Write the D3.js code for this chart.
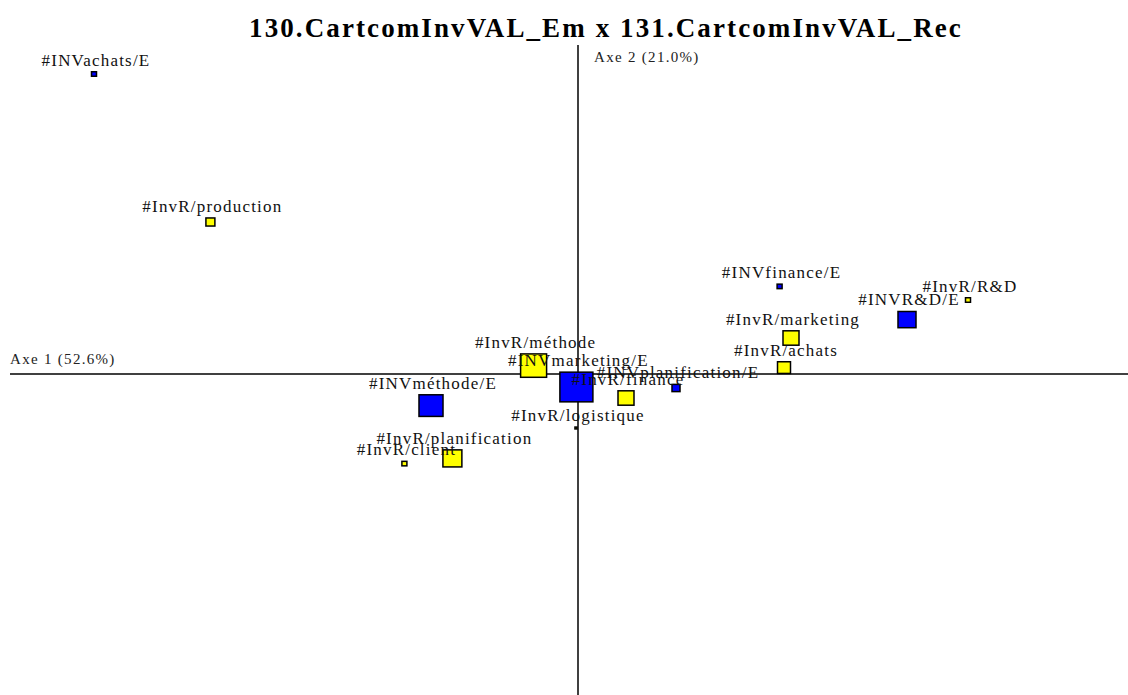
<!DOCTYPE html>
<html>
<head>
<meta charset="utf-8">
<script src="https://cdn.jsdelivr.net/npm/d3@7"></script>
<style>
  html, body { margin: 0; padding: 0; background: #fff; }
  svg { display: block; }
</style>
</head>
<body>
<svg id="chart" width="1128" height="695"></svg>
<script>
// Correspondence analysis map: modalities of the two variables on axes 1 and 2
const labels = [
  "#INVachats/E", "#InvR/production", "#INVfinance/E", "#InvR/R&D", "#INVR&D/E",
  "#InvR/marketing", "#InvR/achats", "#INVplanification/E", "#InvR/finance",
  "#INVmarketing/E", "#InvR/méthode", "#INVméthode/E", "#InvR/logistique",
  "#InvR/planification", "#InvR/client"
];
// "E" = emitter variable (blue), "R" = receiver variable (yellow)
const groups = ["E", "R", "E", "R", "E", "R", "R", "E", "R", "E", "R", "E", "R", "R", "R"];
const axis1 = [-1.21, -0.919, 0.504, 0.975, 0.8225, 0.5325, 0.515, 0.245, 0.12, -0.004, -0.111, -0.3675, -0.005, -0.314, -0.434];
const axis2 = [0.75, 0.38, 0.219, 0.185, 0.136, 0.09, 0.016, -0.035, -0.06, -0.0325, 0.021, -0.079, -0.135, -0.211, -0.224];
const masses = [2.3, 7.4, 2.3, 2.3, 29.8, 23.5, 15.5, 5.9, 23.5, 100, 62, 53, 0.4, 33, 2.3];

const titleText = "130.CartcomInvVAL_Em x 131.CartcomInvVAL_Rec";
const axis1Label = "Axe 1 (52.6%)";
const axis2Label = "Axe 2 (21.0%)";

const W = 1128, H = 695;
const svg = d3.select("#chart");
const serif = "'Liberation Serif', 'DejaVu Serif', serif";

const x = d3.scaleLinear().domain([-1.42, 1.375]).range([10, 1128]);
const y = d3.scaleLinear().domain([0.7725, -0.8025]).range([65, 695]);
const side = d3.scaleSqrt().domain([0, 100]).range([0, 33]);
const fill = d3.scaleOrdinal().domain(["E", "R"]).range(["#0000ff", "#ffff00"]);

const points = labels.map((label, i) => ({
  label, group: groups[i], a1: axis1[i], a2: axis2[i], mass: masses[i]
}));

// Title
svg.append("text")
  .attr("x", 606).attr("y", 37)
  .attr("text-anchor", "middle")
  .attr("font-family", serif)
  .attr("font-weight", "bold")
  .attr("font-size", 27)
  .attr("letter-spacing", 2.1)
  .attr("fill", "#000")
  .text(titleText);

// Axes through the origin
svg.append("line")
  .attr("x1", x(-1.42)).attr("x2", x(1.375))
  .attr("y1", y(0)).attr("y2", y(0))
  .attr("stroke", "#000").attr("stroke-width", 1.5);
svg.append("line")
  .attr("x1", x(0)).attr("x2", x(0))
  .attr("y1", 45).attr("y2", H)
  .attr("stroke", "#000").attr("stroke-width", 1.5);

svg.append("text")
  .attr("x", 10).attr("y", y(0) - 10)
  .attr("font-family", serif).attr("font-size", 15).attr("letter-spacing", 1.3).attr("fill", "#222")
  .text(axis1Label);
svg.append("text")
  .attr("x", x(0) + 16).attr("y", 62)
  .attr("font-family", serif).attr("font-size", 15).attr("letter-spacing", 1.3).attr("fill", "#222")
  .text(axis2Label);

// Markers: squares sized by mass
const g = svg.append("g");
g.selectAll("rect")
  .data(points)
  .join("rect")
  .attr("x", d => x(d.a1) - side(d.mass) / 2)
  .attr("y", d => y(d.a2) - side(d.mass) * 0.45)
  .attr("width", d => side(d.mass))
  .attr("height", d => side(d.mass) * 0.9)
  .attr("fill", d => fill(d.group))
  .attr("stroke", "#000")
  .attr("stroke-width", 1.5);

// Labels centred above each marker
g.selectAll("text")
  .data(points)
  .join("text")
  .attr("x", d => x(d.a1) + 2)
  .attr("y", d => y(d.a2) - side(d.mass) * 0.45 - 6)
  .attr("text-anchor", "middle")
  .attr("font-family", serif)
  .attr("font-size", 17)
  .attr("letter-spacing", 1.2)
  .attr("fill", "#111")
  .text(d => d.label);
</script>
</body>
</html>
